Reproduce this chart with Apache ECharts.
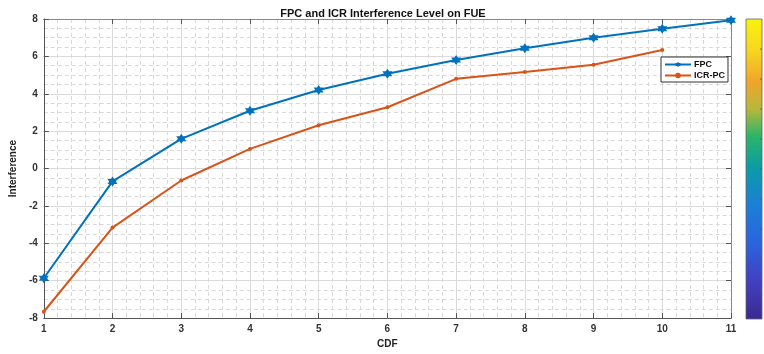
<!DOCTYPE html>
<html>
<head>
<meta charset="utf-8">
<script src="https://cdn.jsdelivr.net/npm/echarts@6/dist/echarts.min.js"></script>
<style>
  html, body { margin: 0; padding: 0; background: #fff; }
  #chart { width: 764px; height: 354px; }
</style>
</head>
<body>
<div id="chart"></div>
<script>
// CDF steps along the x axis
const cdf = [1, 2, 3, 4, 5, 6, 7, 8, 9, 10, 11];
// Interference level for fractional power control
const fpc = [-5.87, -0.69, 1.59, 3.09, 4.2, 5.07, 5.81, 6.44, 7.0, 7.48, 7.93];
// Interference level for ICR power control
const icrPc = [-7.66, -3.16, -0.64, 1.05, 2.32, 3.28, 4.8, 5.17, 5.55, 6.34];

const seriesNames = ['FPC', 'ICR-PC'];
const seriesColors = ['#0072BD', '#D95319'];

// Parula-like colour ramp for the colour bar (offset from top, colour)
const parulaStops = [
  [0, '#f9f20e'], [0.1, '#f8d81f'], [0.21, '#f0a52a'], [0.3, '#b8b83a'],
  [0.39, '#2cb468'], [0.5, '#0a9ba8'], [0.62, '#1b7fd6'], [0.75, '#2b63de'],
  [0.87, '#4240c2'], [1, '#3a2a8f']
];

const pair = (xs, ys) => ys.map((v, i) => [xs[i], v]);

const hexagram = 'path://M0,-10L2.9,-5L8.66,-5L5.8,0L8.66,5L2.9,5L0,10L-2.9,5L-8.66,5L-5.8,0L-8.66,-5L-2.9,-5Z';

const chart = echarts.init(document.getElementById('chart'));

const gridBox = { left: 37, right: 33, top: 19, bottom: 35 };
const axisGray = '#555';
const boldFont = { fontFamily: 'Liberation Sans, Arial, sans-serif', fontWeight: 'bold' };

// colour bar beside the plot
const barX = 746, barY = gridBox.top, barW = 16, barH = 354 - gridBox.top - gridBox.bottom;
const barGraphics = [{
  type: 'rect',
  shape: { x: barX, y: barY, width: barW, height: barH },
  style: {
    fill: new echarts.graphic.LinearGradient(0, 0, 0, 1,
      parulaStops.map(([o, c]) => ({ offset: o, color: c }))),
    stroke: '#666', lineWidth: 0.8
  }
}];
for (let k = 1; k < 10; k++) {
  const ty = barY + barH * k / 10;
  barGraphics.push({ type: 'line', shape: { x1: barX + barW - 2, y1: ty, x2: barX + barW, y2: ty }, style: { stroke: '#555', lineWidth: 0.8 } });
}

chart.setOption({
  animation: false,
  backgroundColor: '#fff',
  title: {
    text: 'FPC and ICR Interference Level on FUE',
    left: 378, textAlign: 'center', top: 3,
    textStyle: Object.assign({ fontSize: 11, color: '#111' }, boldFont)
  },
  legend: {
    data: seriesNames,
    orient: 'vertical',
    left: 661, top: 57,
    padding: [3, 3, 2, 3],
    itemGap: 2,
    itemWidth: 26, itemHeight: 7,
    backgroundColor: '#fff',
    borderColor: '#333', borderWidth: 1, borderRadius: 0,
    textStyle: Object.assign({ fontSize: 9, color: '#111', padding: [0, 0, 0, -2] }, boldFont)
  },
  grid: gridBox,
  xAxis: [{
    type: 'value', min: 1, max: 11, interval: 1,
    name: 'CDF', nameLocation: 'middle', nameGap: 20,
    nameTextStyle: Object.assign({ fontSize: 10, color: '#222' }, boldFont),
    axisLine: { show: true, onZero: false, lineStyle: { color: axisGray, width: 1 } },
    axisTick: { show: true, inside: true, length: 5, lineStyle: { color: axisGray } },
    axisLabel: Object.assign({ fontSize: 10, color: '#333', margin: 6 }, boldFont),
    splitLine: { show: true, lineStyle: { color: '#dadada', width: 1 } },
    minorTick: { show: false, splitNumber: 5 },
    minorSplitLine: { show: true, lineStyle: { color: '#d9d9d9', type: [4, 3], width: 1 } }
  }, {
    type: 'value', min: 1, max: 11, interval: 1, position: 'top',
    axisLine: { show: true, onZero: false, lineStyle: { color: '#888', width: 1 } },
    axisTick: { show: true, inside: true, length: 5, lineStyle: { color: axisGray } },
    axisLabel: { show: false }, splitLine: { show: false }
  }],
  yAxis: [{
    type: 'value', min: -8, max: 8, interval: 2,
    name: 'Interference', nameLocation: 'middle', nameGap: 20, nameRotate: 90,
    nameTextStyle: Object.assign({ fontSize: 10, color: '#222' }, boldFont),
    axisLine: { show: true, onZero: false, lineStyle: { color: axisGray, width: 1 } },
    axisTick: { show: true, inside: true, length: 5, lineStyle: { color: axisGray } },
    axisLabel: Object.assign({ fontSize: 10, color: '#333', margin: 6 }, boldFont),
    splitLine: { show: true, lineStyle: { color: '#dadada', width: 1 } },
    minorTick: { show: false, splitNumber: 4 },
    minorSplitLine: { show: true, lineStyle: { color: '#d9d9d9', type: [4, 3], width: 1 } }
  }, {
    type: 'value', min: -8, max: 8, interval: 2, position: 'right',
    axisLine: { show: true, onZero: false, lineStyle: { color: '#888', width: 1 } },
    axisTick: { show: true, inside: true, length: 5, lineStyle: { color: axisGray } },
    axisLabel: { show: false }, splitLine: { show: false }
  }],
  series: [{
    name: seriesNames[0], type: 'line',
    data: pair(cdf, fpc),
    color: seriesColors[0],
    lineStyle: { width: 2, color: seriesColors[0] },
    symbol: hexagram, symbolSize: 10, showAllSymbol: true,
    itemStyle: { color: seriesColors[0] },
    z: 3
  }, {
    name: seriesNames[1], type: 'line',
    data: pair(cdf, icrPc),
    color: seriesColors[1],
    lineStyle: { width: 2, color: seriesColors[1] },
    symbol: 'circle', symbolSize: 4, showAllSymbol: true,
    itemStyle: { color: seriesColors[1] },
    z: 2
  }],
  graphic: barGraphics
});
</script>
</body>
</html>
